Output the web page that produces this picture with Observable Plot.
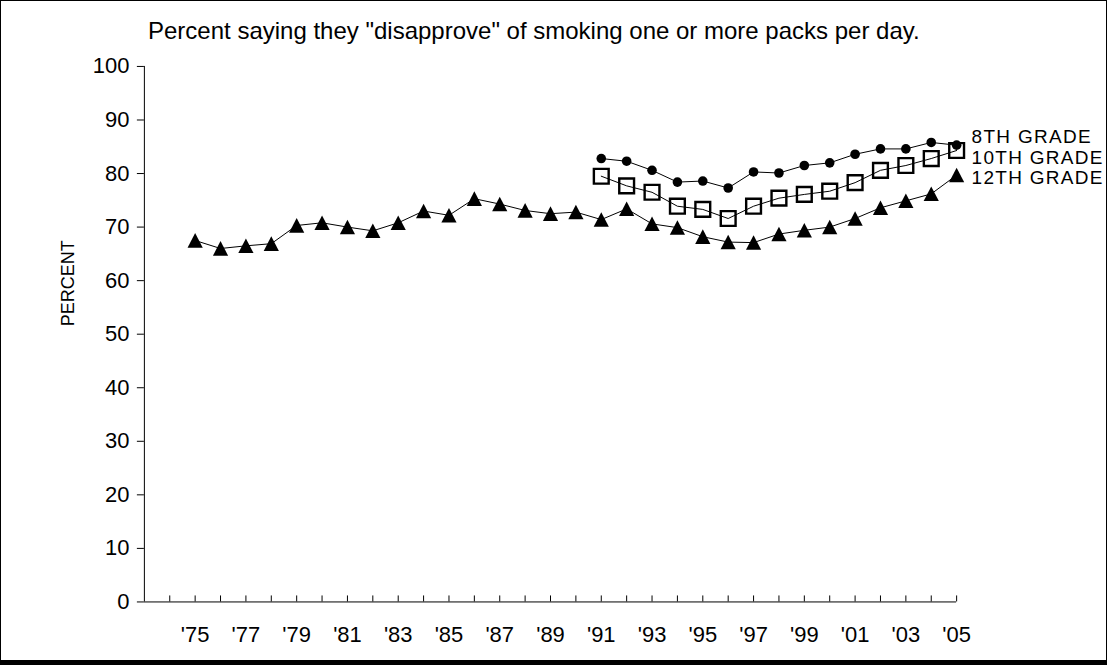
<!DOCTYPE html>
<html><head><meta charset="utf-8">
<script src="https://cdn.jsdelivr.net/npm/d3@7"></script>
<script src="https://cdn.jsdelivr.net/npm/@observablehq/plot@0.6"></script>
<style>
body{margin:0;background:#fff;}
#frame{position:relative;width:1107px;height:665px;box-sizing:border-box;border:1px solid #000;border-bottom:5px solid #000;overflow:hidden;font-family:"Liberation Sans",Arial,sans-serif;}
#title{position:absolute;left:147px;top:18px;font-size:24px;line-height:24px;white-space:nowrap;color:#000;}
#chart{position:absolute;left:-1px;top:-1px;}
#chart .grade-label text{letter-spacing:1.3px;}
</style></head><body>
<div id="frame"><div id="title"></div><div id="chart"></div></div>
<script>
const titleText = 'Percent saying they "disapprove" of smoking one or more packs per day.';
const seriesNames = ["8TH GRADE", "10TH GRADE", "12TH GRADE"];
const years12 = [1975,1976,1977,1978,1979,1980,1981,1982,1983,1984,1985,1986,1987,1988,1989,1990,1991,1992,1993,1994,1995,1996,1997,1998,1999,2000,2001,2002,2003,2004,2005];
const yearsLower = [1991,1992,1993,1994,1995,1996,1997,1998,1999,2000,2001,2002,2003,2004,2005];
const grade12 = [67.5,66.0,66.5,66.9,70.3,70.8,70.0,69.3,70.8,73.0,72.2,75.3,74.3,73.1,72.5,72.8,71.4,73.4,70.6,69.9,68.2,67.2,67.1,68.7,69.4,70.0,71.6,73.6,74.9,76.2,79.7];
const grade10 = [79.5,77.7,76.5,73.9,73.3,71.6,73.9,75.4,76.1,76.7,78.3,80.6,81.5,82.8,84.3];
const grade8  = [82.8,82.3,80.6,78.4,78.6,77.3,80.3,80.1,81.5,82.0,83.6,84.6,84.6,85.8,85.3];
const xTickYears = [1974,1975,1976,1977,1978,1979,1980,1981,1982,1983,1984,1985,1986,1987,1988,1989,1990,1991,1992,1993,1994,1995,1996,1997,1998,1999,2000,2001,2002,2003,2004,2005];
const xLabelYears = [1975,1977,1979,1981,1983,1985,1987,1989,1991,1993,1995,1997,1999,2001,2003,2005];
const yTicks = [0,10,20,30,40,50,60,70,80,90,100];
const xDomain = [1973, 2005];
const yDomain = [0, 100];

document.getElementById("title").textContent = titleText;

const d12 = years12.map((year, i) => ({year, v: grade12[i]}));
const d10 = yearsLower.map((year, i) => ({year, v: grade10[i]}));
const d8 = yearsLower.map((year, i) => ({year, v: grade8[i]}));

const triangleSym = {draw(ctx) { ctx.moveTo(0, -7.4); ctx.lineTo(7.6, 7.2); ctx.lineTo(-7.6, 7.2); ctx.closePath(); }};
const squareSym = {draw(ctx) { ctx.rect(-7.4, -7.4, 14.8, 14.8); }};

const last = arr => arr[arr.length - 1];

const chart = Plot.plot({
  width: 1107,
  height: 661,
  marginLeft: 144,
  marginRight: 150,
  marginTop: 66,
  marginBottom: 59,
  style: {fontFamily: "'Liberation Sans', Arial, sans-serif", background: "transparent", color: "#000"},
  x: {domain: xDomain, type: "linear"},
  y: {domain: yDomain},
  marks: [
    Plot.ruleX([xDomain[0]], {stroke: "#000", strokeWidth: 1}),
    Plot.ruleY([0], {stroke: "#000", strokeWidth: 1}),
    Plot.ruleX(xTickYears, {x: d => d, y1: 0, y2: 0, insetTop: -6, stroke: "#000", strokeWidth: 1}),
    Plot.axisY({ticks: yTicks, tickSize: 7, tickPadding: 8, fontSize: 22, label: null, stroke: "#000"}),
    Plot.axisX({ticks: xLabelYears, tickSize: 0, tickPadding: 24, fontSize: 22, label: null, tickFormat: d => "'" + String(d).slice(2)}),
    Plot.text(["PERCENT"], {frameAnchor: "left", textAnchor: "middle", lineAnchor: "middle", rotate: -90, dx: -76, dy: -51, fontSize: 18, fill: "#000"}),
    Plot.line(d12, {x: "year", y: "v", stroke: "#000", strokeWidth: 1}),
    Plot.line(d10, {x: "year", y: "v", stroke: "#000", strokeWidth: 1}),
    Plot.line(d8, {x: "year", y: "v", stroke: "#000", strokeWidth: 1}),
    Plot.dot(d12, {x: "year", y: "v", symbol: triangleSym, r: 6, fill: "#000", stroke: "none"}),
    Plot.dot(d10, {x: "year", y: "v", symbol: squareSym, r: 6, fill: "none", stroke: "#000", strokeWidth: 2.4}),
    Plot.dot(d8, {x: "year", y: "v", r: 4.8, fill: "#000", stroke: "none"}),
    Plot.text([last(d8)], {x: "year", y: "v", text: () => seriesNames[0], dx: 15, dy: -8, textAnchor: "start", fontSize: 19, fill: "#000", className: "grade-label"}),
    Plot.text([last(d10)], {x: "year", y: "v", text: () => seriesNames[1], dx: 15, dy: 7.5, textAnchor: "start", fontSize: 19, fill: "#000", className: "grade-label"}),
    Plot.text([last(d12)], {x: "year", y: "v", text: () => seriesNames[2], dx: 15, dy: 3, textAnchor: "start", fontSize: 19, fill: "#000", className: "grade-label"})
  ]
});
document.getElementById("chart").appendChild(chart);
</script>
</body></html>
